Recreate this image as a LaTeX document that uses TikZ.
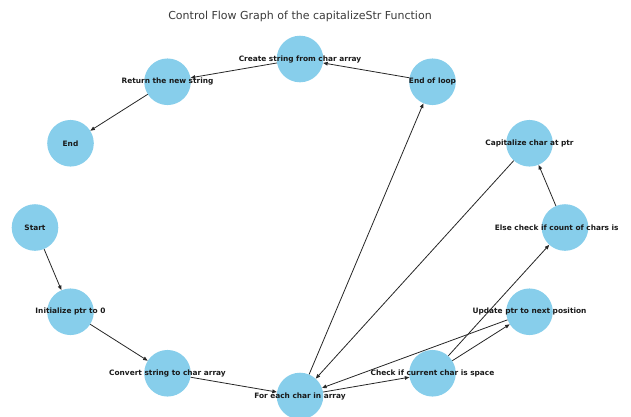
\documentclass[tikz,border=0pt]{standalone}
\usepackage{fontspec}
\setmainfont{DejaVu Sans}
\usetikzlibrary{arrows.meta}

\definecolor{nodeblue}{HTML}{87CEEB}
\definecolor{titlegray}{HTML}{3A3A3A}

\tikzset{
  state/.style={circle, fill=nodeblue, draw=none, minimum size=46.6pt, inner sep=0pt},
  statelabel/.style={inner sep=0pt, font=\fontsize{7.4}{8}\selectfont\bfseries, text=black!90},
  flow/.style={draw=black!85, line width=0.8pt, -{Triangle[length=4.5pt,width=3.6pt]}},
}

\begin{document}
\begin{tikzpicture}[x=1pt, y=-1pt]
  \useasboundingbox (0,0) rectangle (631,416);
  \clip (0,0) rectangle (631,416);

  % title
  \node[font=\fontsize{11}{13}\selectfont, text=titlegray, inner sep=0pt]
    (title) at (300,16) {Control Flow Graph of the capitalizeStr Function};

  % states, placed on an ellipse around (300,227.5)
  \node[state] (else)   at (565,227.5)    {};
  \node[state] (cap)    at (529.5,143.25) {};
  \node[state] (eol)    at (432.5,81.75)  {};
  \node[state] (create) at (300,59)       {};
  \node[state] (ret)    at (167.5,81.75)  {};
  \node[state] (end)    at (70.5,143.25)  {};
  \node[state] (start)  at (35,227.5)     {};
  \node[state] (init)   at (70.5,311.75)  {};
  \node[state] (conv)   at (167.5,373.25) {};
  \node[state] (each)   at (300,396)      {};
  \node[state] (check)  at (432.5,373.25) {};
  \node[state] (upd)    at (529.5,311.75) {};

  % control flow
  \draw[flow] (start)  -- (init);
  \draw[flow] (init)   -- (conv);
  \draw[flow] (conv)   -- (each);
  \draw[flow] (each)   -- (check);
  \draw[flow] (check)  -- (upd);
  \draw[flow] (upd)    -- (each);
  \draw[flow] (check)  -- (else);
  \draw[flow] (else)   -- (cap);
  \draw[flow] (cap)    -- (each);
  \draw[flow] (each)   -- (eol);
  \draw[flow] (eol)    -- (create);
  \draw[flow] (create) -- (ret);
  \draw[flow] (ret)    -- (end);

  % labels, cut off at the right margin of the plot area
  \begin{scope}
    \clip (0,0) rectangle (620,416);
    \node[statelabel] at (else.center)   {Else check if count of chars is > 1};
    \node[statelabel] at (cap.center)    {Capitalize char at ptr};
    \node[statelabel] at (eol.center)    {End of loop};
    \node[statelabel] at (create.center) {Create string from char array};
    \node[statelabel] at (ret.center)    {Return the new string};
    \node[statelabel] at (end.center)    {End};
    \node[statelabel] at (start.center)  {Start};
    \node[statelabel] at (init.center)   {Initialize ptr to 0};
    \node[statelabel] at (conv.center)   {Convert string to char array};
    \node[statelabel] at (each.center)   {For each char in array};
    \node[statelabel] at (check.center)  {Check if current char is space};
    \node[statelabel] at (upd.center)    {Update ptr to next position};
  \end{scope}
\end{tikzpicture}
\end{document}
